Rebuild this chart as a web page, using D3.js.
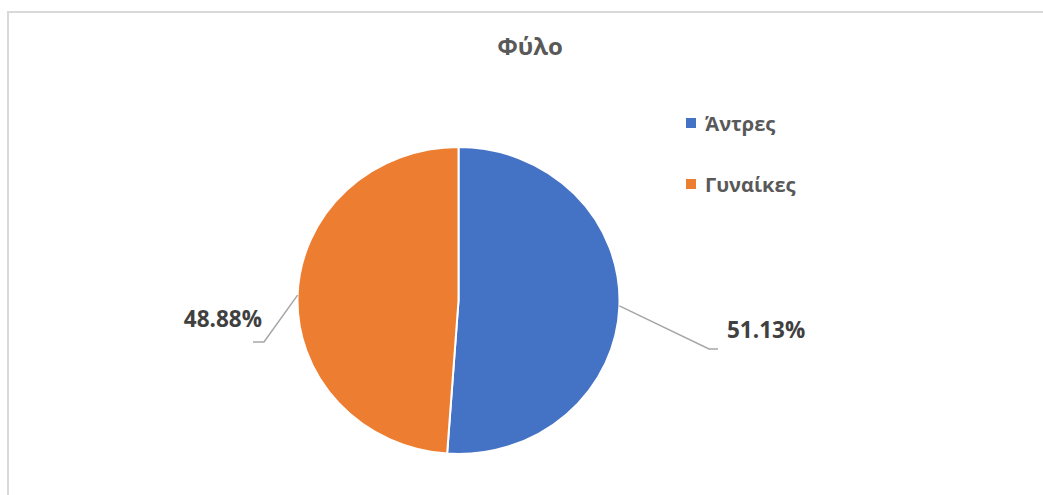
<!DOCTYPE html>
<html>
<head>
<meta charset="utf-8">
<script src="https://cdn.jsdelivr.net/npm/d3@7"></script>
<style>
  body { margin: 0; background: #fff; }
  svg { display: block; font-family: "Open Sans", "Noto Sans", sans-serif; }
</style>
</head>
<body>
<div id="chart"></div>
<script>
// chart data
var title = "Φύλο";
var categories = ["Άντρες", "Γυναίκες"];
var values = [51.13, 48.88];
var labels = ["51.13%", "48.88%"];
var colors = ["#4472c4", "#ed7d31"];

var W = 1043, H = 495;
var cx = 458.5, cy = 300.5;
var r = 153.5, sx = 161 / 153.5;   // the picture is a bit stretched sideways

var svg = d3.select("#chart").append("svg")
    .attr("width", W)
    .attr("height", H);

// chart area frame, runs off the right and bottom edges
svg.append("rect")
    .attr("x", 8).attr("y", 12)
    .attr("width", 1200).attr("height", 700)
    .attr("fill", "none")
    .attr("stroke", "#d9d9d9")
    .attr("stroke-width", 2);

svg.append("text")
    .attr("x", 530).attr("y", 55)
    .attr("text-anchor", "middle")
    .attr("fill", "#595959")
    .style("font-size", "24px")
    .style("font-weight", 700)
    .text(title);

var pie = d3.pie().sort(null).value(function(d){ return d; });
var arcs = pie(values);
var arc = d3.arc().innerRadius(0).outerRadius(r);

var g = svg.append("g")
    .attr("transform", "translate(" + cx + "," + cy + ") scale(" + sx + ",1)");

g.selectAll("path.slice")
    .data(arcs)
  .enter().append("path")
    .classed("slice", true)
    .attr("d", arc)
    .attr("fill", function(d, i){ return colors[i]; })
    .attr("stroke", "#fff")
    .attr("stroke-width", 2)
    .attr("vector-effect", "non-scaling-stroke");

// leader lines: from the rim at the slice mid-angle to an elbow, then a short flat run
var leaders = [
    { elbow: [709, 349], end: [718, 349], tx: 727, ty: 338, anchor: "start" },
    { elbow: [264, 342], end: [253, 342], tx: 262, ty: 327, anchor: "end" }
];

arcs.forEach(function(d, i){
    var a = (d.startAngle + d.endAngle) / 2;
    var px = cx + r * sx * Math.sin(a);
    var py = cy - r * Math.cos(a);
    var L = leaders[i];
    svg.append("polyline")
        .attr("points", [[px, py], L.elbow, L.end].map(function(p){ return p.join(","); }).join(" "))
        .attr("fill", "none")
        .attr("stroke", "#a6a6a6")
        .attr("stroke-width", 1.5);
    svg.append("text")
        .attr("x", L.tx).attr("y", L.ty)
        .attr("text-anchor", L.anchor)
        .attr("fill", "#404040")
        .style("font-size", "22.5px")
        .style("font-weight", 700)
        .text(labels[i]);
});

// legend
var legend = svg.append("g");
var item = legend.selectAll("g")
    .data(categories)
  .enter().append("g")
    .attr("transform", function(d, i){ return "translate(686," + (118 + i * 61) + ")"; });

item.append("rect")
    .attr("width", 10).attr("height", 10)
    .attr("fill", function(d, i){ return colors[i]; });

item.append("text")
    .attr("x", 19).attr("y", 13)
    .attr("fill", "#595959")
    .style("font-size", "20px")
    .style("font-weight", 700)
    .text(function(d){ return d; });
</script>
</body>
</html>
